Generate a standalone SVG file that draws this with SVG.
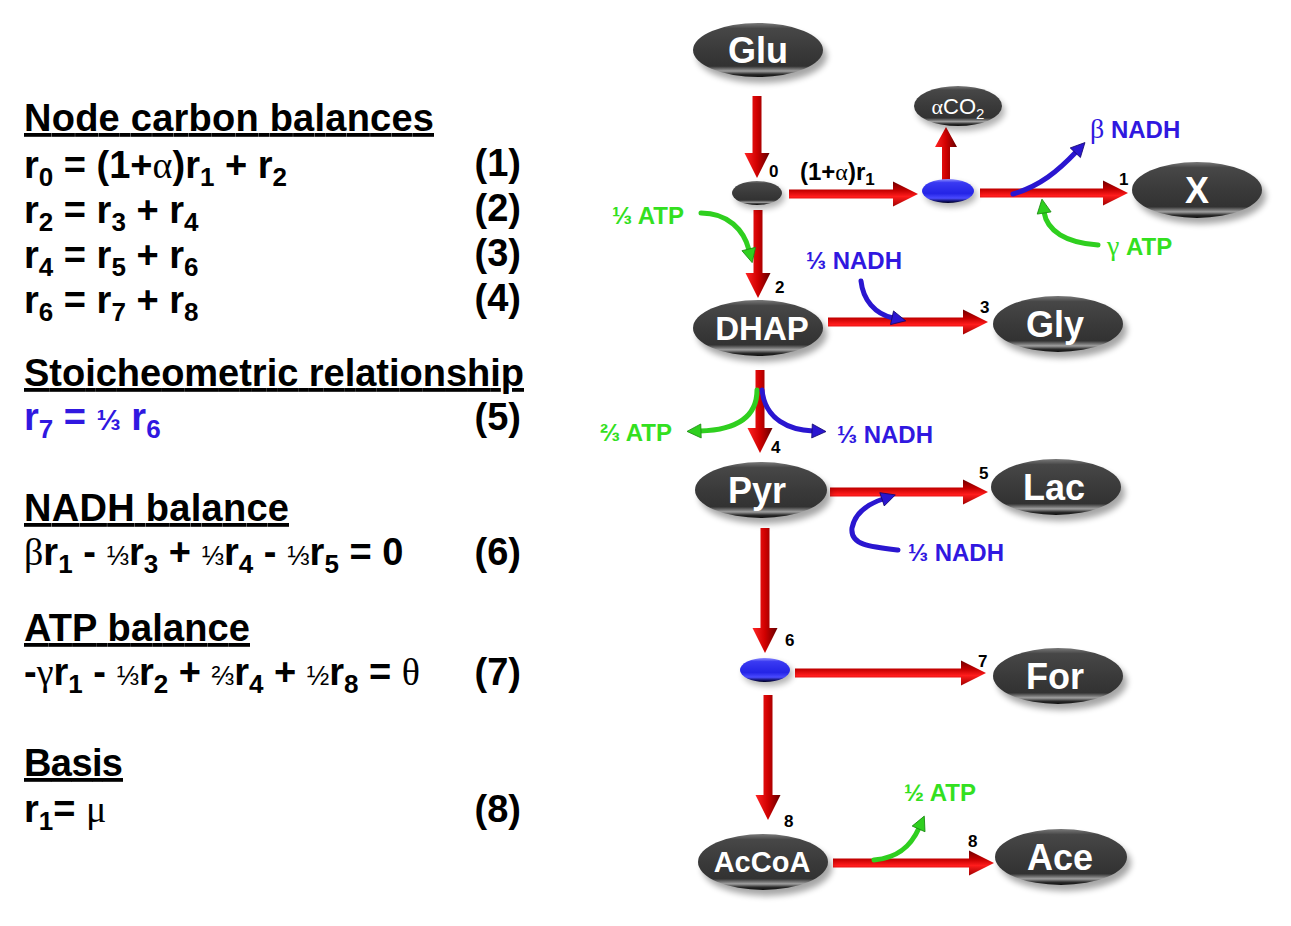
<svg xmlns="http://www.w3.org/2000/svg" width="1291" height="926" viewBox="0 0 1291 926">
<style>
.t{font-family:"Liberation Sans",Arial,sans-serif;font-weight:bold;font-size:38px;fill:#000}
.g{font-family:"Liberation Serif","Times New Roman",serif;font-weight:normal}
.f{font-size:27px;font-weight:normal}
.h{text-decoration:underline}
.num{font-family:"Liberation Sans",Arial,sans-serif;font-weight:bold;font-size:17px;fill:#000}
.nl{font-family:"Liberation Sans",Arial,sans-serif;font-weight:bold;fill:#fff;text-anchor:middle}
.lab{font-family:"Liberation Sans",Arial,sans-serif;font-weight:bold;font-size:24px}
.grn{fill:#33e01f}
.blu{fill:#3018e0}
.ca{fill:none;stroke-width:5;stroke-linecap:round}
.cg{stroke:#2fcf1f;marker-end:url(#mg)}
.cb{stroke:#2a16d0;marker-end:url(#mb)}
</style>
<defs>
<linearGradient id="gray" x1="0" y1="0" x2="0" y2="1">
<stop offset="0" stop-color="#7a7a7a"/><stop offset="0.1" stop-color="#474747"/><stop offset="0.5" stop-color="#3a3a3a"/><stop offset="0.8" stop-color="#323232"/><stop offset="0.89" stop-color="#a0a0a0"/><stop offset="0.95" stop-color="#2a2a2a"/><stop offset="1" stop-color="#0e0e0e"/>
</linearGradient>
<linearGradient id="blue" x1="0" y1="0" x2="0" y2="1">
<stop offset="0" stop-color="#9090ff"/><stop offset="0.15" stop-color="#3a3af2"/><stop offset="0.6" stop-color="#2424e6"/><stop offset="0.8" stop-color="#4a4aff"/><stop offset="0.92" stop-color="#121270"/><stop offset="1" stop-color="#000020"/>
</linearGradient>
<linearGradient id="rh" x1="0" y1="0" x2="0" y2="1">
<stop offset="0" stop-color="#6e0000"/><stop offset="0.35" stop-color="#c40000"/><stop offset="0.6" stop-color="#ff1c1c"/><stop offset="1" stop-color="#a00000"/>
</linearGradient>
<linearGradient id="rv" x1="0" y1="0" x2="1" y2="0">
<stop offset="0" stop-color="#ff2424"/><stop offset="0.5" stop-color="#d00000"/><stop offset="1" stop-color="#640000"/>
</linearGradient>
<filter id="sh" x="-20%" y="-30%" width="140%" height="170%"><feGaussianBlur stdDeviation="3"/></filter>
<marker id="mg" viewBox="-2 -8 18 16" markerWidth="18" markerHeight="16" refX="1" refY="0" orient="auto" markerUnits="userSpaceOnUse"><path d="M0,-7 L14,0 L0,7 Z" fill="#2fcf1f" stroke="#1a8a10" stroke-width="0.8"/></marker>
<marker id="mb" viewBox="-2 -8 18 16" markerWidth="18" markerHeight="16" refX="1" refY="0" orient="auto" markerUnits="userSpaceOnUse"><path d="M0,-7 L14,0 L0,7 Z" fill="#2a16d0" stroke="#14086e" stroke-width="0.8"/></marker>
</defs>
<rect width="1291" height="926" fill="#fff"/>

<g id="equations">
<text class="t h" x="24" y="131" textLength="410" lengthAdjust="spacing">Node carbon balances</text>
<text class="t" x="24" y="178">r<tspan font-size="26" dy="8">0</tspan><tspan dy="-8"> = (1+</tspan><tspan class="g">α</tspan>)r<tspan font-size="26" dy="8">1</tspan><tspan dy="-8"> + r</tspan><tspan font-size="26" dy="8">2</tspan></text>
<text class="t" x="521" y="176" text-anchor="end">(1)</text>
<text class="t" x="24" y="223">r<tspan font-size="26" dy="8">2</tspan><tspan dy="-8"> = r</tspan><tspan font-size="26" dy="8">3</tspan><tspan dy="-8"> + r</tspan><tspan font-size="26" dy="8">4</tspan></text>
<text class="t" x="521" y="221" text-anchor="end">(2)</text>
<text class="t" x="24" y="268">r<tspan font-size="26" dy="8">4</tspan><tspan dy="-8"> = r</tspan><tspan font-size="26" dy="8">5</tspan><tspan dy="-8"> + r</tspan><tspan font-size="26" dy="8">6</tspan></text>
<text class="t" x="521" y="266" text-anchor="end">(3)</text>
<text class="t" x="24" y="313">r<tspan font-size="26" dy="8">6</tspan><tspan dy="-8"> = r</tspan><tspan font-size="26" dy="8">7</tspan><tspan dy="-8"> + r</tspan><tspan font-size="26" dy="8">8</tspan></text>
<text class="t" x="521" y="311" text-anchor="end">(4)</text>

<text class="t h" x="24" y="386" textLength="500" lengthAdjust="spacing">Stoicheometric relationship</text>
<text class="t" x="24" y="430" style="fill:#3018e0">r<tspan font-size="26" dy="8">7</tspan><tspan dy="-8"> = </tspan><tspan font-size="29">⅓</tspan> r<tspan font-size="26" dy="8">6</tspan></text>
<text class="t" x="521" y="430" text-anchor="end">(5)</text>

<text class="t h" x="24" y="521" textLength="265" lengthAdjust="spacing">NADH balance</text>
<text class="t" x="24" y="565"><tspan class="g">β</tspan>r<tspan font-size="26" dy="8">1</tspan><tspan dy="-8"> - </tspan><tspan class="f">⅓</tspan>r<tspan font-size="26" dy="8">3</tspan><tspan dy="-8"> + </tspan><tspan class="f">⅓</tspan>r<tspan font-size="26" dy="8">4</tspan><tspan dy="-8"> - </tspan><tspan class="f">⅓</tspan>r<tspan font-size="26" dy="8">5</tspan><tspan dy="-8"> = 0</tspan></text>
<text class="t" x="521" y="565" text-anchor="end">(6)</text>

<text class="t h" x="24" y="641" textLength="226" lengthAdjust="spacing">ATP balance</text>
<text class="t" x="24" y="685">-<tspan class="g">γ</tspan>r<tspan font-size="26" dy="8">1</tspan><tspan dy="-8"> - </tspan><tspan class="f">⅓</tspan>r<tspan font-size="26" dy="8">2</tspan><tspan dy="-8"> + </tspan><tspan class="f">⅔</tspan>r<tspan font-size="26" dy="8">4</tspan><tspan dy="-8"> + </tspan><tspan class="f">½</tspan>r<tspan font-size="26" dy="8">8</tspan><tspan dy="-8"> = </tspan><tspan class="g">θ</tspan></text>
<text class="t" x="521" y="685" text-anchor="end">(7)</text>

<text class="t h" x="24" y="776" textLength="99" lengthAdjust="spacing">Basis</text>
<text class="t" x="24" y="822">r<tspan font-size="26" dy="8">1</tspan><tspan dy="-8">= </tspan><tspan class="g">μ</tspan></text>
<text class="t" x="521" y="822" text-anchor="end">(8)</text>
</g>

<g id="connectors">
<path fill="url(#rv)" d="M752.5,96 H761.5 V153 H769.5 L757,178 L744.5,153 H752.5 Z"/>
<path fill="url(#rh)" d="M789,189.5 H893 V181.5 L918,194 L893,206.5 V198.5 H789 Z"/>
<path fill="url(#rv)" d="M942,180 V147 H935 L946,127 L957,147 H950 V180 Z"/>
<path fill="url(#rh)" d="M980,188.5 H1103 V180.5 L1128,193 L1103,205.5 V197.5 H980 Z"/>
<path fill="url(#rv)" d="M753.5,210 H762.5 V273 H770.5 L758,298 L745.5,273 H753.5 Z"/>
<path fill="url(#rh)" d="M828,317.5 H963 V309.5 L988,322 L963,334.5 V326.5 H828 Z"/>
<path fill="url(#rv)" d="M755.5,370 H764.5 V428 H772.5 L760,453 L747.5,428 H755.5 Z"/>
<path fill="url(#rh)" d="M830,487.5 H963 V479.5 L988,492 L963,504.5 V496.5 H830 Z"/>
<path fill="url(#rv)" d="M760.5,528 H769.5 V628 H777.5 L765,653 L752.5,628 H760.5 Z"/>
<path fill="url(#rh)" d="M795,668.5 H961 V660.5 L986,673 L961,685.5 V677.5 H795 Z"/>
<path fill="url(#rv)" d="M763.5,695 H772.5 V795 H780.5 L768,820 L755.5,795 H763.5 Z"/>
<path fill="url(#rh)" d="M833,858.5 H969 V850.5 L994,863 L969,875.5 V867.5 H833 Z"/>

<path class="ca cb" d="M1013,194 C1040,186 1058,171 1076,152"/>
<path class="ca cg" d="M1098,245 C1066,243 1047,231 1044,212"/>
<path class="ca cg" d="M701,213 C728,213 744,230 749,250"/>
<path class="ca cb" d="M861,281 C863,300 875,314 893,318"/>
<path class="ca cg" d="M757,390 C757,420 732,430 700,431"/>
<path class="ca cb" d="M762,390 C765,420 790,430 813,431"/>
<path class="ca cb" d="M898,550 C870,547 850,545 852,528 C855,512 868,504 883,499"/>
<path class="ca cg" d="M874,860 C898,858 911,846 919,828"/>

<text class="t" x="800" y="180" style="font-size:24px">(1+<tspan class="g">α</tspan>)r<tspan font-size="17" dy="5">1</tspan></text>
<text class="lab blu" x="1090" y="138"><tspan class="g" font-size="28">β</tspan> NADH</text>
<text class="lab grn" x="1107" y="255"><tspan class="g" font-size="28">γ</tspan> ATP</text>
<text class="lab grn" x="612" y="224">⅓ ATP</text>
<text class="lab blu" x="806" y="269">⅓ NADH</text>
<text class="lab grn" x="600" y="441">⅔ ATP</text>
<text class="lab blu" x="837" y="443">⅓ NADH</text>
<text class="lab blu" x="908" y="561">⅓ NADH</text>
<text class="lab grn" x="904" y="801">½ ATP</text>

<text class="num" x="769" y="177">0</text>
<text class="num" x="1119" y="185">1</text>
<text class="num" x="775" y="293">2</text>
<text class="num" x="980" y="313">3</text>
<text class="num" x="771" y="453">4</text>
<text class="num" x="979" y="479">5</text>
<text class="num" x="785" y="646">6</text>
<text class="num" x="978" y="667">7</text>
<text class="num" x="784" y="827">8</text>
<text class="num" x="968" y="847">8</text>
</g>

<g id="node-Glu"><ellipse cx="762" cy="56" rx="65" ry="27" fill="#000" opacity="0.35" filter="url(#sh)"/><ellipse cx="758" cy="50" rx="65" ry="27" fill="url(#gray)"/><text class="nl" x="758" y="63" font-size="36">Glu</text></g>
<g id="node-0"><ellipse cx="760" cy="197" rx="25" ry="12" fill="#000" opacity="0.3" filter="url(#sh)"/><ellipse cx="757" cy="193" rx="25" ry="12" fill="url(#gray)"/></g>
<g id="node-1"><ellipse cx="951" cy="195" rx="26" ry="12" fill="#000" opacity="0.3" filter="url(#sh)"/><ellipse cx="948" cy="191" rx="26" ry="12" fill="url(#blue)"/></g>
<g id="node-CO2"><ellipse cx="961" cy="111" rx="44" ry="20" fill="#000" opacity="0.3" filter="url(#sh)"/><ellipse cx="958" cy="106" rx="44" ry="20" fill="url(#gray)"/><text class="nl" x="958" y="114" font-size="22" style="font-weight:normal"><tspan class="g">α</tspan>CO<tspan font-size="15" dy="5">2</tspan></text></g>
<g id="node-X"><ellipse cx="1201" cy="196" rx="65" ry="28" fill="#000" opacity="0.35" filter="url(#sh)"/><ellipse cx="1197" cy="190" rx="65" ry="28" fill="url(#gray)"/><text class="nl" x="1197" y="203" font-size="36">X</text></g>
<g id="node-DHAP"><ellipse cx="762" cy="334" rx="65" ry="28" fill="#000" opacity="0.35" filter="url(#sh)"/><ellipse cx="758" cy="328" rx="65" ry="28" fill="url(#gray)"/><text class="nl" x="762" y="340" font-size="33">DHAP</text></g>
<g id="node-Gly"><ellipse cx="1062" cy="330" rx="65" ry="28" fill="#000" opacity="0.35" filter="url(#sh)"/><ellipse cx="1058" cy="324" rx="65" ry="28" fill="url(#gray)"/><text class="nl" x="1055" y="337" font-size="36">Gly</text></g>
<g id="node-Pyr"><ellipse cx="765" cy="496" rx="66" ry="28" fill="#000" opacity="0.35" filter="url(#sh)"/><ellipse cx="761" cy="490" rx="66" ry="28" fill="url(#gray)"/><text class="nl" x="757" y="503" font-size="36">Pyr</text></g>
<g id="node-Lac"><ellipse cx="1060" cy="493" rx="65" ry="28" fill="#000" opacity="0.35" filter="url(#sh)"/><ellipse cx="1056" cy="487" rx="65" ry="28" fill="url(#gray)"/><text class="nl" x="1054" y="500" font-size="36">Lac</text></g>
<g id="node-6"><ellipse cx="768" cy="674" rx="25" ry="12" fill="#000" opacity="0.3" filter="url(#sh)"/><ellipse cx="765" cy="670" rx="25" ry="12" fill="url(#blue)"/></g>
<g id="node-For"><ellipse cx="1062" cy="682" rx="65" ry="28" fill="#000" opacity="0.35" filter="url(#sh)"/><ellipse cx="1058" cy="676" rx="65" ry="28" fill="url(#gray)"/><text class="nl" x="1055" y="689" font-size="36">For</text></g>
<g id="node-AcCoA"><ellipse cx="767" cy="868" rx="65" ry="28" fill="#000" opacity="0.35" filter="url(#sh)"/><ellipse cx="763" cy="862" rx="65" ry="28" fill="url(#gray)"/><text class="nl" x="762" y="872" font-size="29">AcCoA</text></g>
<g id="node-Ace"><ellipse cx="1065" cy="863" rx="66" ry="28" fill="#000" opacity="0.35" filter="url(#sh)"/><ellipse cx="1061" cy="857" rx="66" ry="28" fill="url(#gray)"/><text class="nl" x="1060" y="870" font-size="36">Ace</text></g>
</svg>
